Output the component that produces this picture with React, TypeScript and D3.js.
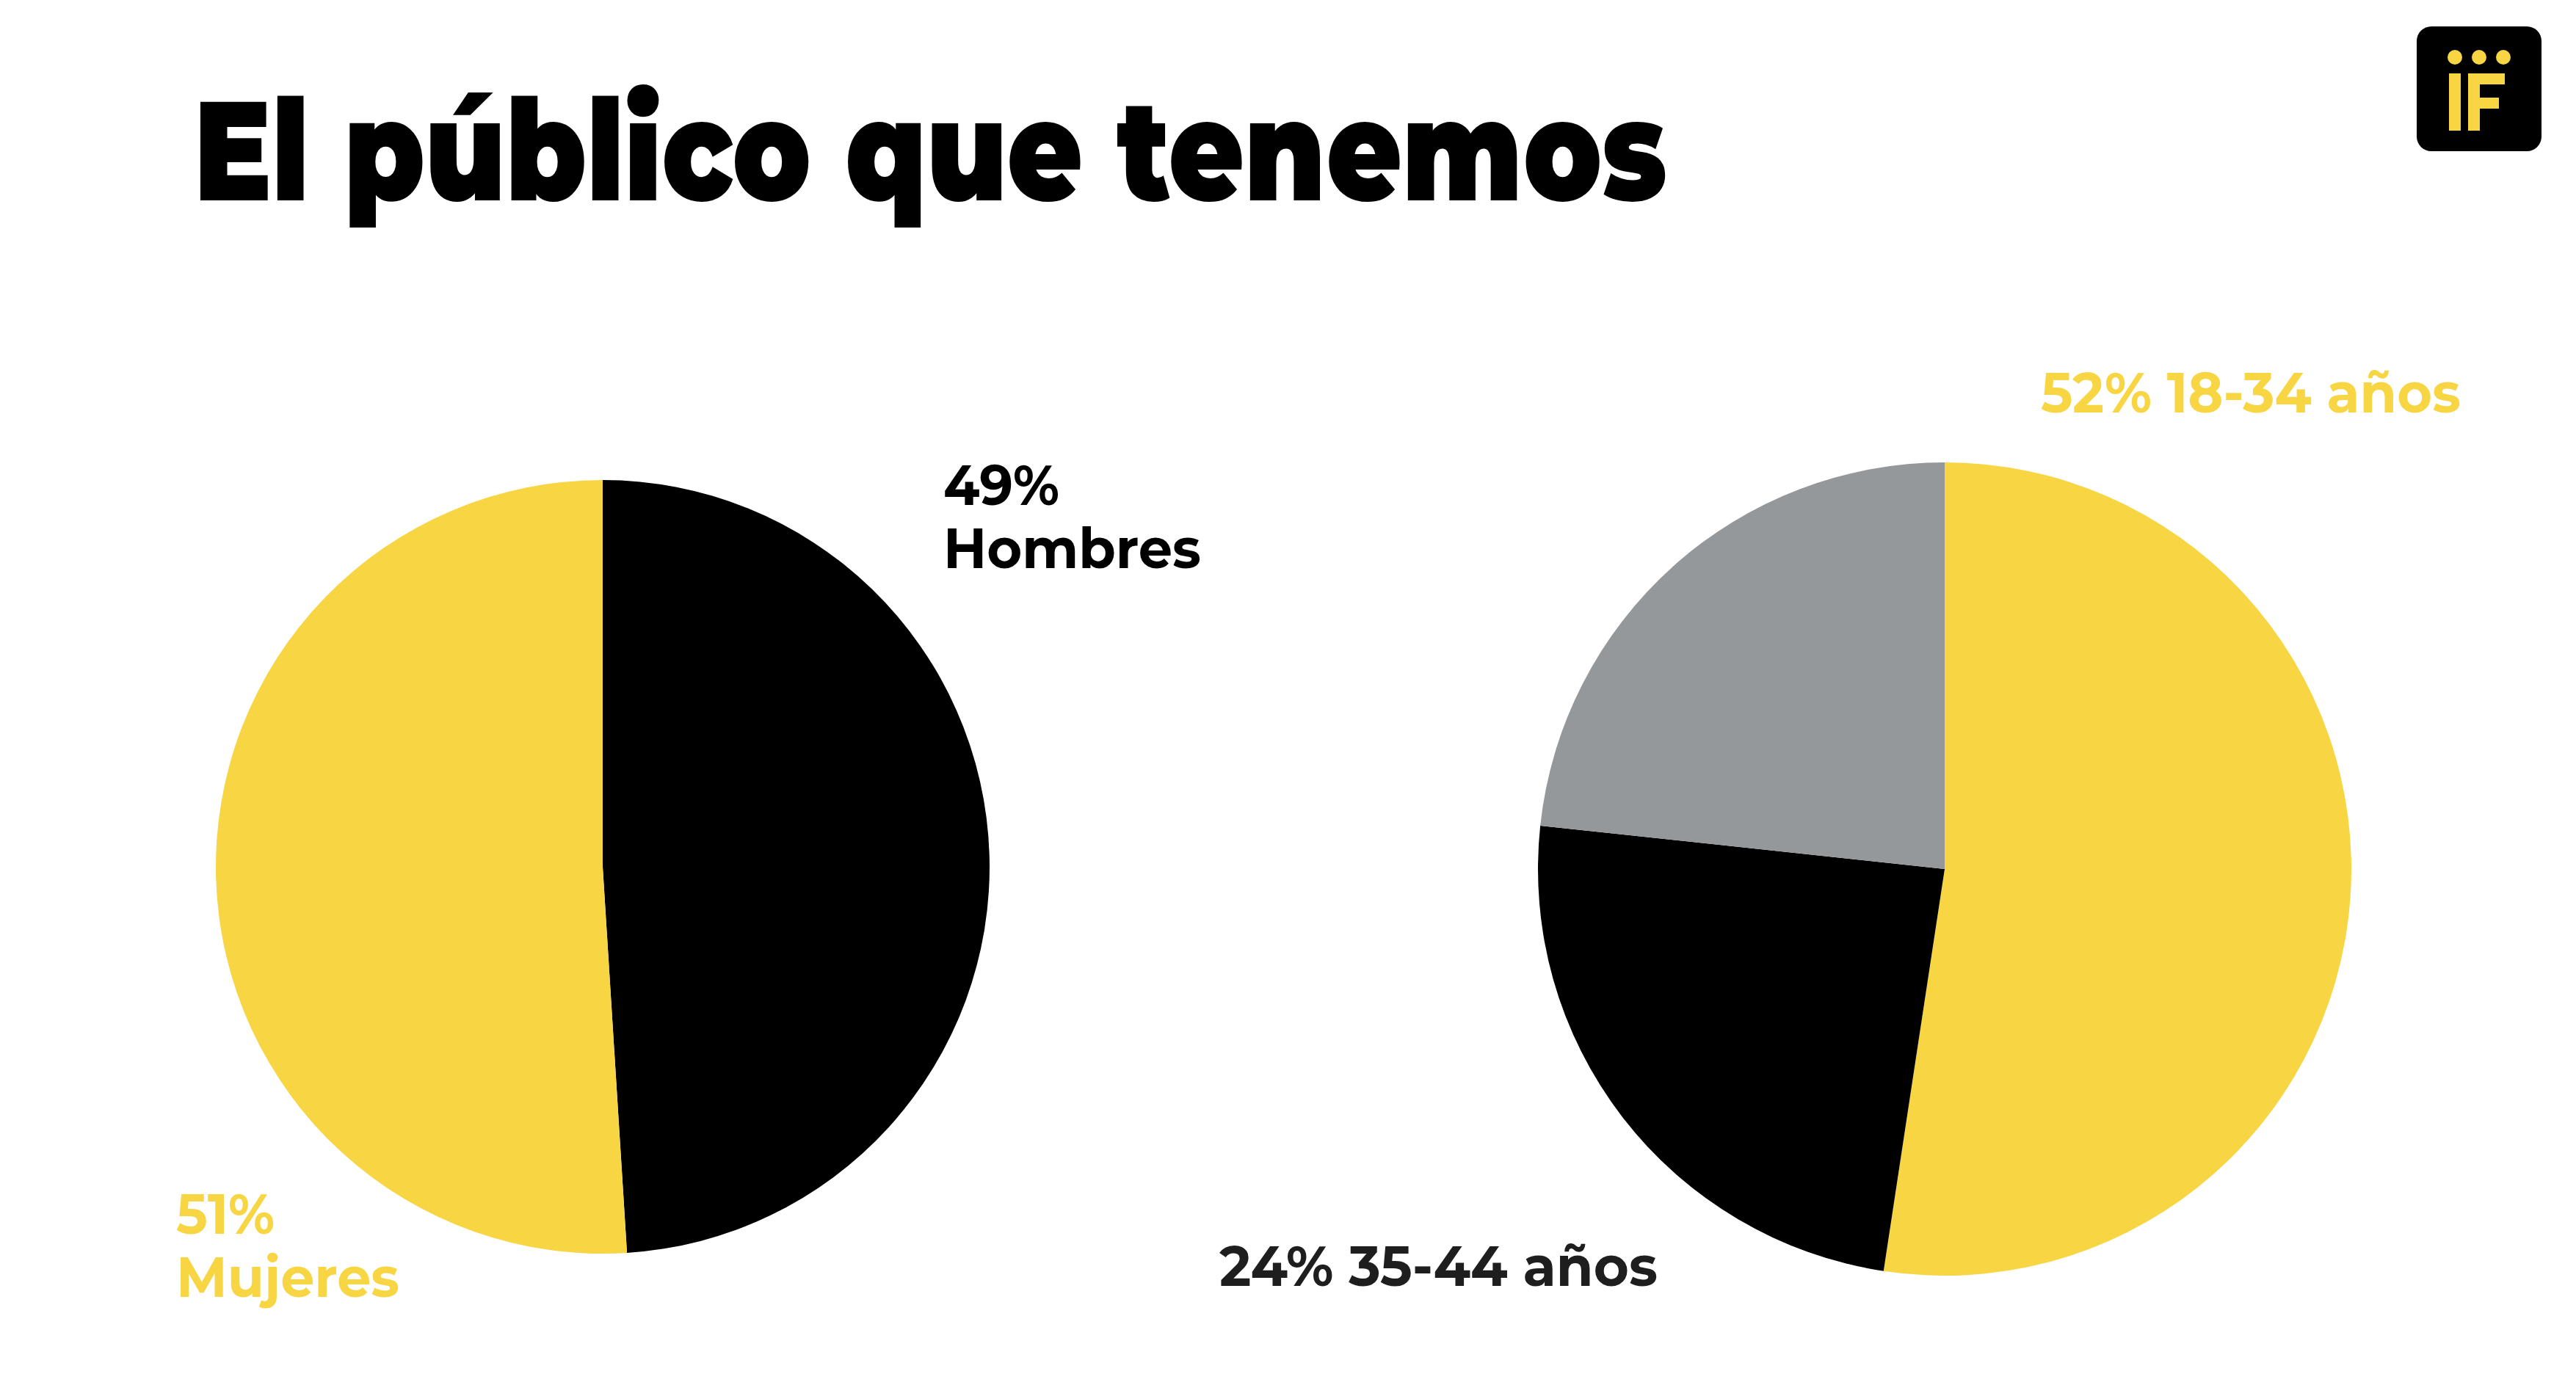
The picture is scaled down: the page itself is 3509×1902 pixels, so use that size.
import React from "react";
import * as d3 from "d3";

const W = 3509;
const H = 1902;

const genderLabels = ["Hombres", "Mujeres"];
const genderValues = [49, 51];
const genderColors = ["#000000", "#F7D543"];

const ageLabels = ["18-34 años", "35-44 años", "Otros"];
const ageValues = [52.4, 24.3, 23.3];
const ageColors = ["#F7D543", "#000000", "#95989A"];

const title = "El público que tenemos";

const YELLOW = "#F7D543";
const FONT = "Montserrat, Lato, 'Open Sans', sans-serif";

function Pie({ cx, cy, r, values, colors }: { cx: number; cy: number; r: number; values: number[]; colors: string[] }) {
  const pie = d3.pie<number>().sort(null).value((d) => d);
  const arc = d3.arc<d3.PieArcDatum<number>>().innerRadius(0).outerRadius(r);
  const arcs = pie(values);
  return (
    <g transform={`translate(${cx},${cy})`}>
      {arcs.map((a, i) => (
        <path key={i} d={arc(a) || ""} fill={colors[i]} />
      ))}
    </g>
  );
}

export default function App() {
  return (
    <svg width={W} height={H} style={{ position: "absolute", left: 0, top: 0, background: "#fff" }}>
      <rect x={0} y={0} width={W} height={H} fill="#fff" />
      <text x={264} y={273} fontFamily={FONT} fontWeight={900} fontSize={192} fill="#000" textLength={2007} lengthAdjust="spacingAndGlyphs">
        {title}
      </text>

      {/* logo */}
      <g>
        <rect x={3292} y={36} width={170} height={170} rx={20} fill="#000" />
        <circle cx={3344} cy={78} r={10} fill={YELLOW} />
        <circle cx={3377} cy={78} r={10} fill={YELLOW} />
        <circle cx={3410} cy={78} r={10} fill={YELLOW} />
        <rect x={3336} y={100} width={16} height={78} fill={YELLOW} />
        <rect x={3362} y={100} width={16} height={78} fill={YELLOW} />
        <rect x={3362} y={100} width={50} height={15} fill={YELLOW} />
        <rect x={3362} y={133} width={42} height={15} fill={YELLOW} />
      </g>

      <Pie cx={821} cy={1181} r={527} values={genderValues} colors={genderColors} />
      <Pie cx={2649} cy={1184} r={554} values={ageValues} colors={ageColors} />

      <g fontFamily={FONT} fontWeight={700} fontSize={76}>
        <text x={1285} y={688} fill="#000" textLength={158} lengthAdjust="spacingAndGlyphs">{`${Math.round(genderValues[0])}%`}</text>
        <text x={1285} y={774} fill="#000" textLength={351} lengthAdjust="spacingAndGlyphs">{genderLabels[0]}</text>
        <text x={240} y={1681} fill={YELLOW} textLength={134} lengthAdjust="spacingAndGlyphs">{`${Math.round(genderValues[1])}%`}</text>
        <text x={240} y={1767} fill={YELLOW} textLength={304} lengthAdjust="spacingAndGlyphs">{genderLabels[1]}</text>
        <text x={2780} y={562} fill={YELLOW} textLength={572} lengthAdjust="spacingAndGlyphs">{`${Math.round(ageValues[0])}% ${ageLabels[0]}`}</text>
        <text x={1661} y={1752} fill="#1e1e1e" textLength={597} lengthAdjust="spacingAndGlyphs">{`${Math.round(ageValues[1])}% ${ageLabels[1]}`}</text>
      </g>
    </svg>
  );
}
